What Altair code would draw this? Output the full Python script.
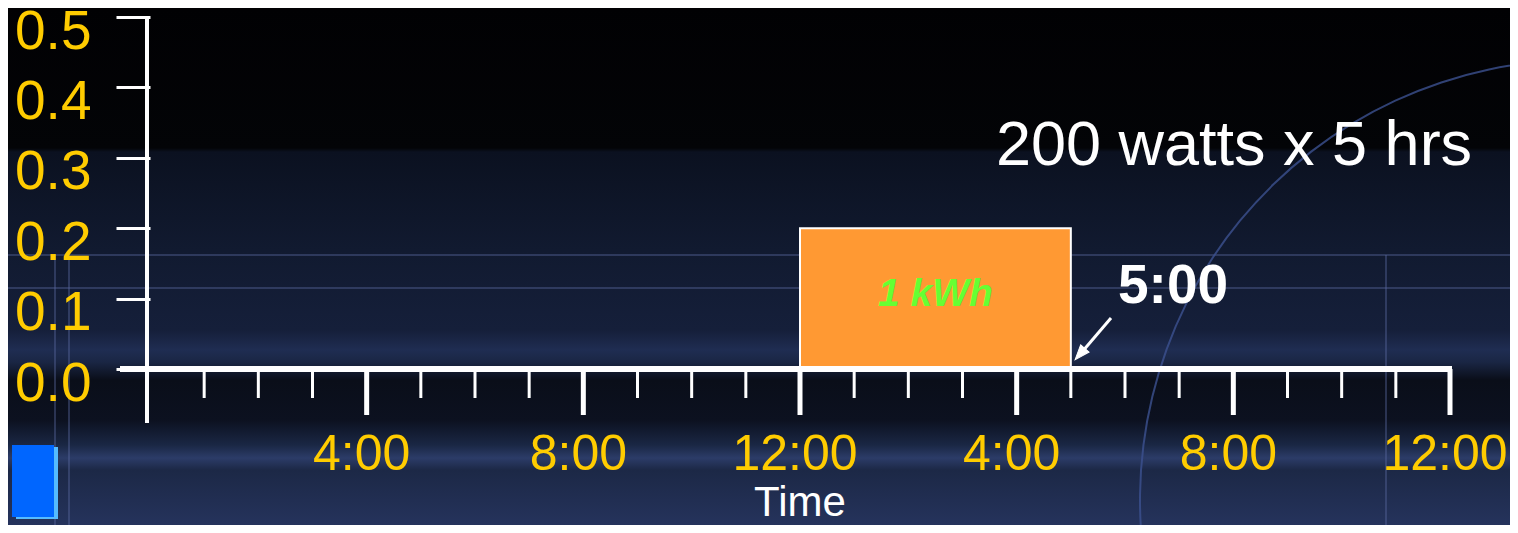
import altair as alt
import pandas as pd

# ---- data ----
hours_minor = [1, 2, 3, 5, 6, 7, 9, 10, 11, 13, 14, 15, 17, 18, 19, 21, 22, 23]
hours_major = [4, 8, 12, 16, 20, 24]
major_labels = ["4:00", "8:00", "12:00", "4:00", "8:00", "12:00"]
y_ticks = [0.0, 0.1, 0.2, 0.3, 0.4, 0.5]
use_start = [12]
use_end = [17]
use_kw = [0.2]
use_label = ["1 kWh"]

# ---- layout ----
W, H = 1300, 352
PAD_L, PAD_T = 142, 9
PAD_R = 1502 - PAD_L - W
PAD_B = 517 - PAD_T - H
FONT = "Liberation Sans"
OX, OY = PAD_L + 8, PAD_T + 8  # page position of plot origin


def px(x):
    return x - OX


def py(y):
    return y - OY


usage = pd.DataFrame({"start": use_start, "end": use_end, "kw": use_kw, "label": use_label})
usage["mid"] = (usage["start"] + usage["end"]) / 2
usage["half"] = usage["kw"] / 2
minor_df = pd.DataFrame({"hour": hours_minor})
major_df = pd.DataFrame({"hour": hours_major, "label": major_labels})
one = pd.DataFrame({"k": [0]})

xs = alt.Scale(domain=[0, 24], nice=False, zero=False)
ys = alt.Scale(domain=[0, 0.5], nice=False)
yaxis = alt.Axis(values=y_ticks, format=".1f", domain=False, grid=False,
                 tickSize=34, tickWidth=3, tickColor="white",
                 labelFontSize=55, labelFont=FONT, labelColor="#FFCC00",
                 labelPadding=25, labelOffset=14, labelFlush=False,
                 labelOverlap=False, labelBound=False, title=None, zindex=2)


def deco_rule(x, x2, y, y2, color="#5a6aa0", width=2, opacity=0.4):
    return alt.Chart(one).mark_rule(color=color, strokeWidth=width, opacity=opacity).encode(
        x=alt.value(px(x)), x2=alt.value(px(x2)), y=alt.value(py(y)), y2=alt.value(py(y2)))


stops = [
    (8, "#010103"), (148, "#030407"), (152, "#0b1120"), (250, "#111a30"),
    (330, "#151f3a"), (350, "#1f2d52"), (362, "#1a2644"), (380, "#0a0e19"),
    (420, "#0c1120"), (445, "#1a2744"), (458, "#2c3c68"), (470, "#1c2846"),
    (525, "#25335c"),
]
grad = alt.Gradient(
    gradient="linear",
    stops=[alt.GradientStop(color=c, offset=round((y - 8) / 517, 4)) for y, c in stops],
    x1=0, x2=0, y1=0, y2=1,
)
bg = alt.Chart(one).mark_rect(fill=grad).encode(
    x=alt.value(px(8)), x2=alt.value(px(1510)), y=alt.value(py(8)), y2=alt.value(py(525)))

decor = [
    deco_rule(8, 1510, 255, 255),
    deco_rule(8, 1510, 288, 288),
    deco_rule(55, 55, 255, 525),
    deco_rule(69, 69, 255, 525),
    deco_rule(1386, 1386, 255, 525),
]
arc = alt.Chart(one).mark_arc(radius=441, radius2=439, theta=4.5, theta2=6.3,
                              fill="#3c5190", opacity=0.8).encode(
    x=alt.value(px(1580)), y=alt.value(py(500)))
logo_edge = alt.Chart(one).mark_rect(fill="#55bbff").encode(
    x=alt.value(px(16)), x2=alt.value(px(58)), y=alt.value(py(447)), y2=alt.value(py(519)))
logo = alt.Chart(one).mark_rect(fill="#0066ff").encode(
    x=alt.value(px(12)), x2=alt.value(px(54)), y=alt.value(py(445)), y2=alt.value(py(517)))

rect = alt.Chart(usage).mark_rect(fill="#FF9933", stroke="white", strokeWidth=2).encode(
    x=alt.X("start:Q", scale=xs, axis=None),
    x2="end:Q",
    y=alt.Y("kw:Q", scale=ys, axis=yaxis),
    y2=alt.datum(0),
)
kwh = alt.Chart(usage).mark_text(font=FONT, fontSize=39, fontWeight="bold", fontStyle="italic",
                                 color="#66FF33", baseline="middle", dy=-5).encode(
    x=alt.X("mid:Q", scale=xs, axis=None),
    y=alt.Y("half:Q", scale=ys, axis=yaxis),
    text="label:N",
)

y_line = alt.Chart(one).mark_rule(color="white", strokeWidth=4).encode(
    x=alt.value(-3), y=alt.value(0), y2=alt.value(py(423)))
x_line = alt.Chart(one).mark_rule(color="white", strokeWidth=6).encode(
    x=alt.value(px(120)), x2=alt.value(W + 2), y=alt.value(H), y2=alt.value(H))

minor_ticks = alt.Chart(minor_df).mark_rule(color="white", strokeWidth=3).encode(
    x=alt.X("hour:Q", scale=xs, axis=None), y=alt.value(H), y2=alt.value(py(398)))
major_ticks = alt.Chart(major_df).mark_rule(color="white", strokeWidth=5).encode(
    x=alt.X("hour:Q", scale=xs, axis=None), y=alt.value(H), y2=alt.value(py(415)))
x_labels = alt.Chart(major_df).mark_text(font=FONT, fontSize=50, color="#FFCC00",
                                         baseline="alphabetic", dx=-5).encode(
    x=alt.X("hour:Q", scale=xs, axis=None), y=alt.value(py(470)), text="label:N")

x_title = alt.Chart(one).mark_text(text="Time", font=FONT, fontSize=42, color="white",
                                   baseline="alphabetic").encode(
    x=alt.value(px(800)), y=alt.value(py(516)))
note = alt.Chart(one).mark_text(text="200 watts x 5 hrs", font=FONT, fontSize=63, color="white",
                                baseline="alphabetic", align="center").encode(
    x=alt.value(px(1234)), y=alt.value(py(165)))
end_note = alt.Chart(one).mark_text(text="5:00", font=FONT, fontSize=55, fontWeight="bold",
                                    color="white", baseline="alphabetic", align="left").encode(
    x=alt.value(px(1118)), y=alt.value(py(303)))
arrow_line = alt.Chart(one).mark_rule(color="white", strokeWidth=3).encode(
    x=alt.value(px(1111)), x2=alt.value(px(1082)), y=alt.value(py(318)), y2=alt.value(py(352)))
arrow_head = alt.Chart(one).mark_point(shape="M0,-1L0.75,1L-0.75,1Z", angle=221, size=220,
                                       filled=True, fill="white", stroke="white",
                                       strokeWidth=1, opacity=1).encode(
    x=alt.value(px(1080)), y=alt.value(py(354)))

chart = alt.layer(
    bg, *decor, arc, logo_edge, logo,
    rect, kwh, y_line, x_line, minor_ticks, major_ticks, x_labels,
    x_title, note, end_note, arrow_line, arrow_head,
).properties(
    width=W, height=H,
    padding={"left": PAD_L, "top": PAD_T, "right": PAD_R, "bottom": PAD_B},
    autosize=alt.AutoSizeParams(type="none"),
    background="#0e1628",
).configure_view(stroke=None)

chart.save("out.html", embed_options={"renderer": "svg", "actions": False})
